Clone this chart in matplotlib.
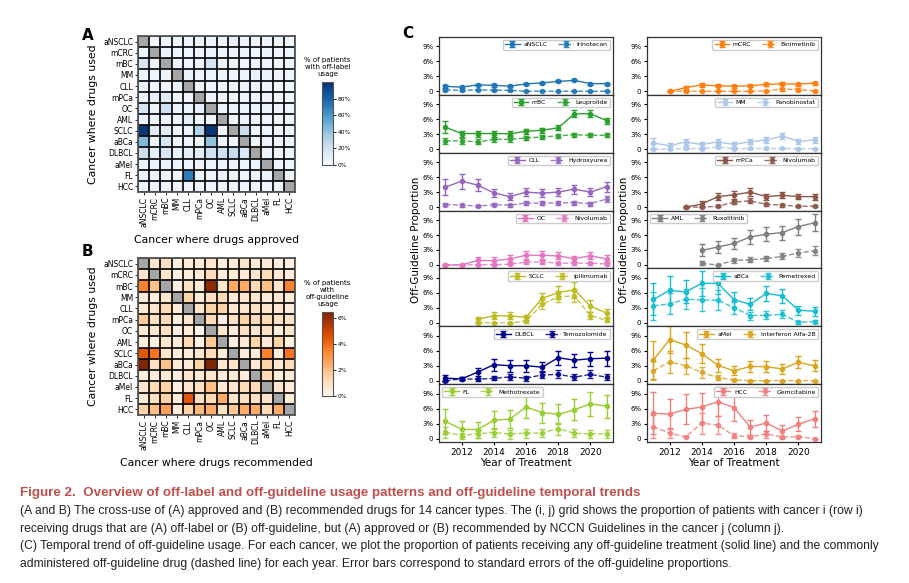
import numpy as np
import matplotlib
matplotlib.use('Agg')
import matplotlib.pyplot as plt
from matplotlib.ticker import FuncFormatter

W, H = 909, 583

cancers = ["aNSCLC", "mCRC", "mBC", "MM", "CLL", "mPCa", "OC", "AML",
           "SCLC", "aBCa", "DLBCL", "aMel", "FL", "HCC"]

# (A) off-label usage, % of patients (row = cancer where used, col = cancer where approved)
offlabel = np.array([
    [0, 4, 5, 4, 4, 5, 5, 5, 8, 5, 4, 5, 4, 4],
    [4, 0, 5, 4, 4, 5, 5, 4, 5, 5, 4, 5, 4, 4],
    [16, 5, 0, 7, 4, 5, 16, 5, 5, 5, 5, 5, 4, 4],
    [4, 4, 5, 0, 7, 5, 5, 5, 5, 5, 7, 5, 5, 4],
    [5, 5, 5, 7, 0, 5, 5, 5, 5, 5, 5, 5, 4, 4],
    [5, 10, 12, 4, 4, 0, 5, 5, 5, 5, 5, 5, 4, 4],
    [16, 6, 20, 5, 5, 8, 0, 5, 6, 6, 5, 5, 5, 4],
    [5, 4, 5, 4, 10, 4, 4, 0, 5, 5, 5, 4, 4, 4],
    [97, 11, 12, 5, 5, 30, 97, 5, 0, 22, 5, 6, 5, 5],
    [45, 6, 16, 5, 5, 6, 40, 5, 6, 0, 5, 5, 5, 5],
    [22, 10, 16, 7, 10, 12, 20, 20, 24, 14, 0, 5, 5, 5],
    [5, 5, 5, 4, 4, 5, 5, 5, 5, 5, 5, 0, 4, 4],
    [5, 5, 5, 4, 70, 5, 5, 5, 5, 5, 5, 5, 0, 4],
    [5, 5, 5, 4, 4, 5, 5, 5, 5, 5, 4, 4, 4, 0],
], dtype=float)

# (B) off-guideline usage, % of patients (col = cancer where recommended)
offguide = np.array([
    [0, 0.8, 1.0, 0.3, 0.5, 0.6, 0.8, 0.4, 0.6, 0.8, 0.6, 0.6, 0.4, 0.3],
    [0.8, 0, 0.8, 0.3, 0.4, 0.6, 1.2, 0.4, 0.5, 0.6, 0.8, 1.2, 0.6, 0.4],
    [3.5, 2.0, 0, 0.3, 1.0, 0.6, 6.2, 0.8, 2.5, 2.5, 1.2, 2.0, 0.8, 3.5],
    [0.5, 0.4, 0.8, 0, 1.5, 0.5, 1.0, 1.2, 0.6, 0.8, 0.8, 0.5, 0.8, 0.5],
    [0.6, 0.8, 1.2, 0.5, 0, 0.8, 1.5, 1.5, 0.6, 0.8, 1.0, 0.8, 0.8, 0.4],
    [1.8, 1.0, 1.2, 0.3, 0.8, 0, 1.2, 0.3, 1.0, 1.5, 1.2, 1.2, 1.0, 1.0],
    [0.6, 0.8, 1.0, 0.3, 0.5, 0.1, 0, 0.8, 0.5, 1.0, 0.8, 1.0, 0.4, 0.8],
    [0.4, 0.3, 0.8, 0.5, 1.2, 0.2, 1.8, 0, 0.3, 0.6, 1.5, 0.6, 1.5, 0.3],
    [4.5, 3.8, 0.8, 0.4, 0.5, 0.8, 1.2, 0.5, 0, 0.6, 0.5, 3.5, 0.5, 3.8],
    [6.5, 1.0, 2.0, 0.5, 0.5, 1.5, 6.5, 0.8, 0.8, 0, 0.6, 1.5, 0.6, 1.2],
    [0.4, 0.5, 0.6, 0.4, 0.8, 0.6, 0.8, 0.6, 0.6, 0.5, 0, 1.2, 0.4, 0.6],
    [0.8, 1.2, 1.5, 0.3, 0.8, 1.0, 2.0, 0.6, 0.8, 1.2, 1.2, 0, 0.8, 0.5],
    [0.6, 1.0, 1.5, 0.5, 4.5, 1.0, 1.2, 2.5, 0.8, 1.0, 1.0, 0.8, 0, 0.5],
    [1.5, 2.0, 2.8, 0.6, 1.5, 2.2, 2.5, 1.0, 1.8, 2.5, 2.5, 1.2, 2.5, 0],
])

# (C) yearly off-guideline proportions in %, solid = any, dashed = top drug
ansclc = [1.0, 0.85, 1.3, 1.2, 1.05, 1.5, 1.7, 2.0, 2.2, 1.55, 1.55]
ansclc_se = [0.3, 0.25, 0.25, 0.25, 0.2, 0.2, 0.2, 0.2, 0.2, 0.2, 0.2]
irinotecan = [0.3, 0.2, 0.3, 0.25, 0.2, 0.05, 0.05, 0.02, 0.02, 0.02, 0.02]
irinotecan_se = [0.15, 0.1, 0.1, 0.1, 0.1, 0.05, 0.05, 0.02, 0.02, 0.02, 0.02]

mbc = [4.4, 3.15, 3.15, 3.15, 3.1, 3.6, 3.8, 4.3, 7.1, 7.1, 5.75]
mbc_se = [1.2, 0.6, 0.6, 0.6, 0.5, 0.5, 0.5, 0.5, 0.7, 0.7, 0.6]
leuprolide = [1.65, 1.7, 1.45, 2.0, 2.0, 2.25, 2.45, 2.7, 2.9, 2.8, 2.8]
leuprolide_se = [0.7, 0.6, 0.5, 0.5, 0.5, 0.4, 0.4, 0.4, 0.4, 0.4, 0.4]

cll = [4.0, 5.2, 4.4, 2.85, 2.1, 3.0, 2.8, 3.0, 3.6, 3.0, 4.1]
cll_se = [1.6, 1.5, 1.2, 0.8, 0.7, 0.8, 0.8, 0.8, 0.9, 0.8, 1.0]
hydroxyurea = [0.5, 0.4, 0.2, 0.45, 0.4, 0.8, 0.8, 0.85, 0.9, 0.7, 1.6]
hydroxyurea_se = [0.3, 0.3, 0.2, 0.3, 0.3, 0.4, 0.4, 0.4, 0.4, 0.4, 0.6]

oc = [0.0, 0.0, 0.9, 0.85, 1.2, 1.95, 1.95, 1.8, 1.25, 1.85, 1.2]
oc_se = [0.1, 0.1, 0.7, 0.7, 0.7, 0.8, 0.8, 0.7, 0.6, 0.7, 0.7]
nivolumab_oc = [0.0, 0.0, 0.05, 0.05, 0.15, 0.55, 0.6, 0.35, 0.35, 0.35, 0.2]
nivolumab_oc_se = [0.0, 0.0, 0.1, 0.1, 0.2, 0.4, 0.4, 0.3, 0.3, 0.3, 0.3]

sclc = [0.7, 1.4, 1.4, 1.1, 4.9, 6.05, 6.6, 3.35, 1.95]
sclc_se = [0.5, 0.7, 0.7, 0.5, 1.0, 1.3, 1.6, 1.2, 0.8]
ipilimumab = [0.0, 0.0, 0.0, 0.3, 3.7, 5.2, 5.4, 1.4, 0.5]
ipilimumab_se = [0.0, 0.0, 0.0, 0.3, 0.9, 1.1, 1.2, 0.7, 0.4]

dlbcl = [0.5, 0.35, 1.7, 3.2, 3.0, 3.0, 2.7, 4.6, 4.1, 4.4, 4.5]
dlbcl_se = [0.6, 0.3, 0.8, 1.2, 1.2, 1.2, 1.0, 1.4, 1.3, 1.4, 1.5]
temozolomide = [0.0, 0.35, 0.3, 0.45, 0.75, 0.5, 1.15, 1.25, 0.7, 1.25, 0.7]
temozolomide_se = [0.0, 0.3, 0.3, 0.4, 0.6, 0.5, 0.7, 0.8, 0.6, 0.8, 0.6]

fl = [3.45, 1.85, 1.8, 3.65, 3.9, 6.3, 5.2, 4.85, 5.75, 6.95, 6.5]
fl_se = [2.5, 1.6, 1.6, 1.8, 1.8, 2.2, 2.0, 2.0, 2.1, 2.4, 2.3]
methotrexate = [1.25, 0.6, 0.95, 1.2, 0.9, 1.1, 1.1, 2.0, 1.05, 0.95, 0.9]
methotrexate_se = [1.1, 0.6, 0.8, 0.9, 0.9, 0.9, 0.8, 1.2, 0.8, 0.8, 0.8]

mcrc = [0.0, 0.75, 1.3, 1.1, 1.05, 1.1, 1.4, 1.5, 1.45, 1.65]
mcrc_se = [0.1, 0.4, 0.4, 0.3, 0.3, 0.3, 0.3, 0.3, 0.3, 0.3]
binimetinib = [0.0, 0.05, 0.0, 0.0, 0.0, 0.0, 0.1, 0.45, 0.35, 0.1]
binimetinib_se = [0.0, 0.1, 0.0, 0.0, 0.0, 0.0, 0.2, 0.3, 0.3, 0.2]

mm = [1.25, 0.7, 1.45, 0.95, 1.45, 0.95, 1.5, 1.85, 2.65, 1.55, 1.9]
mm_se = [1.0, 0.6, 0.6, 0.5, 0.5, 0.5, 0.5, 0.6, 0.6, 0.5, 0.6]
panobinostat = [0.0, 0.0, 0.15, 0.1, 0.45, 0.1, 0.15, 0.15, 0.15, 0.1, 0.1]
panobinostat_se = [0.0, 0.0, 0.2, 0.1, 0.3, 0.1, 0.1, 0.1, 0.1, 0.1, 0.1]

mpca = [0.0, 0.6, 2.1, 2.45, 3.0, 2.1, 2.35, 2.1, 2.1]
mpca_se = [0.2, 0.6, 0.7, 0.8, 0.8, 0.6, 0.6, 0.5, 0.6]
nivolumab_mpca = [0.0, 0.0, 0.15, 1.0, 1.25, 0.55, 0.4, 0.15, 0.2]
nivolumab_mpca_se = [0.0, 0.0, 0.2, 0.4, 0.5, 0.3, 0.3, 0.2, 0.2]

aml = [2.9, 3.6, 4.3, 5.6, 6.15, 6.5, 7.7, 8.45]
aml_se = [1.2, 1.2, 1.2, 1.4, 1.4, 1.4, 1.6, 1.7]
ruxolitinib = [0.3, 0.0, 0.9, 1.05, 1.3, 1.7, 2.4, 2.85]
ruxolitinib_se = [0.4, 0.0, 0.5, 0.5, 0.5, 0.6, 0.8, 0.9]

abca = [4.7, 6.5, 6.2, 7.9, 7.9, 4.65, 3.7, 5.9, 5.4, 2.55, 2.3]
abca_se = [3.2, 2.8, 2.3, 2.5, 2.2, 1.5, 1.2, 1.5, 1.4, 0.9, 0.9]
pemetrexed = [3.4, 3.8, 4.7, 4.6, 4.5, 3.05, 1.45, 1.5, 1.7, 0.1, 0.2]
pemetrexed_se = [2.8, 2.1, 2.0, 2.3, 2.0, 1.2, 0.8, 0.8, 0.8, 0.3, 0.3]

amel = [4.15, 8.25, 7.15, 5.4, 3.1, 1.95, 2.85, 2.8, 2.35, 3.7, 2.95]
amel_se = [3.9, 2.8, 2.6, 1.9, 1.3, 0.9, 1.1, 1.1, 1.0, 1.2, 1.1]
interferon = [2.0, 3.75, 3.0, 1.65, 0.6, 0.15, 0.0, 0.0, 0.0, 0.0, 0.0]
interferon_se = [1.9, 2.2, 1.6, 1.1, 0.5, 0.2, 0.0, 0.0, 0.0, 0.0, 0.0]

hcc = [5.05, 4.9, 5.85, 6.3, 7.4, 6.2, 2.3, 3.1, 1.5, 2.85, 3.95]
hcc_se = [4.2, 3.0, 3.0, 2.9, 2.9, 2.7, 1.5, 1.6, 1.2, 1.4, 1.6]
gemcitabine = [2.35, 1.1, 0.35, 3.05, 2.7, 0.55, 0.35, 0.9, 0.3, 0.35, 0.0]
gemcitabine_se = [2.3, 1.0, 0.1, 2.1, 1.8, 0.5, 0.3, 0.7, 0.3, 0.3, 0.0]

# (cancer, drug, first year, any, se, drug, se, colour, legend loc)
left_panels = [
    ("aNSCLC", "Irinotecan", 2011, ansclc, ansclc_se, irinotecan, irinotecan_se, "#1f77b4", "upper right"),
    ("mBC", "Leuprolide", 2011, mbc, mbc_se, leuprolide, leuprolide_se, "#2ca02c", "upper right"),
    ("CLL", "Hydroxyurea", 2011, cll, cll_se, hydroxyurea, hydroxyurea_se, "#9467bd", "upper right"),
    ("OC", "Nivolumab", 2011, oc, oc_se, nivolumab_oc, nivolumab_oc_se, "#e377c2", "upper right"),
    ("SCLC", "Ipilimumab", 2013, sclc, sclc_se, ipilimumab, ipilimumab_se, "#bcbd22", "upper right"),
    ("DLBCL", "Temozolomide", 2011, dlbcl, dlbcl_se, temozolomide, temozolomide_se, "#00008b", "upper right"),
    ("FL", "Methotrexate", 2011, fl, fl_se, methotrexate, methotrexate_se, "#9acd32", "upper left"),
]
right_panels = [
    ("mCRC", "Binimetinib", 2012, mcrc, mcrc_se, binimetinib, binimetinib_se, "#ff7f0e", "upper right"),
    ("MM", "Panobinostat", 2011, mm, mm_se, panobinostat, panobinostat_se, "#aec7e8", "upper right"),
    ("mPCa", "Nivolumab", 2013, mpca, mpca_se, nivolumab_mpca, nivolumab_mpca_se, "#8c564b", "upper right"),
    ("AML", "Ruxolitinib", 2014, aml, aml_se, ruxolitinib, ruxolitinib_se, "#7f7f7f", "upper left"),
    ("aBCa", "Pemetrexed", 2011, abca, abca_se, pemetrexed, pemetrexed_se, "#17becf", "upper right"),
    ("aMel", "Interferon Alfa-2B", 2011, amel, amel_se, interferon, interferon_se, "#daa520", "upper right"),
    ("HCC", "Gemcitabine", 2011, hcc, hcc_se, gemcitabine, gemcitabine_se, "#f08080", "upper right"),
]


def rect(x0, y0, x1, y1):
    return [x0 / W, 1 - y1 / H, (x1 - x0) / W, (y1 - y0) / H]


fig = plt.figure(figsize=(W / 100, H / 100), dpi=100)


def heatmap(box, data, cmap, vmax, xlabel, cbox, ctitle, cticks):
    ax = fig.add_axes(rect(*box))
    m = np.ma.masked_where(np.eye(len(cancers), dtype=bool), data)
    cm = plt.get_cmap(cmap).copy()
    cm.set_bad('#a6a6a6')
    im = ax.imshow(m, cmap=cm, vmin=0, vmax=vmax, aspect='auto')
    n = len(cancers)
    ax.set_xticks(range(n))
    ax.set_yticks(range(n))
    ax.set_xticklabels(cancers, rotation=90, fontsize=5.5)
    ax.set_yticklabels(cancers, fontsize=5.5)
    ax.set_xticks(np.arange(-0.5, n, 1), minor=True)
    ax.set_yticks(np.arange(-0.5, n, 1), minor=True)
    ax.grid(which='minor', color='black', lw=1.2)
    ax.tick_params(which='minor', length=0)
    ax.tick_params(which='major', length=2, width=0.6, pad=1.5)
    for s in ax.spines.values():
        s.set_color('#555555')
        s.set_linewidth(1.3)
    ax.set_xlabel(xlabel, fontsize=7.8, labelpad=6)
    ax.set_ylabel("Cancer where drugs used", fontsize=7.8, labelpad=4)
    cax = fig.add_axes(rect(*cbox))
    cb = fig.colorbar(im, cax=cax, ticks=cticks)
    cb.ax.set_yticklabels([f"{t:g}%" for t in cticks])
    cb.ax.tick_params(labelsize=4.3, length=2, width=0.6, pad=1.5)
    cb.outline.set_linewidth(0.8)
    cb.outline.set_edgecolor('#555555')
    cax.set_title(ctitle, fontsize=5, pad=4)


heatmap((138, 36, 295, 192), offlabel, 'Blues', 100, "Cancer where drugs approved",
        (322, 82, 333, 165), "% of patients\nwith off-label\nusage", [0, 20, 40, 60, 80])
heatmap((138, 258, 295, 415), offguide, 'Oranges', 6.5, "Cancer where drugs recommended",
        (322, 312, 333, 396), "% of patients\nwith\noff-guideline\nusage", [0, 2, 4, 6])

pct = FuncFormatter(lambda v, p: "0" if abs(v) < 1e-9 else f"{v * 100:.0f}%")


def column(x0, x1, panels):
    top, bottom = 37, 442
    h = (bottom - top) / len(panels)
    axes = []
    for i, (cname, dname, y0, anyv, anyse, drugv, drugse, c, loc) in enumerate(panels):
        ax = fig.add_axes(rect(x0, top + i * h, x1, top + (i + 1) * h))
        yrs = np.arange(y0, y0 + len(anyv))
        ax.errorbar(yrs, np.array(anyv) / 100, yerr=np.array(anyse) / 100, color=c,
                    marker='o', ms=3, lw=1, elinewidth=1, capsize=2, capthick=1, label=cname)
        ax.errorbar(yrs, np.array(drugv) / 100, yerr=np.array(drugse) / 100, color=c,
                    marker='o', ms=3, lw=1, ls='--', elinewidth=1, capsize=2, capthick=1,
                    alpha=0.85, label=dname)
        ax.set_xlim(2010.6, 2021.4)
        ax.set_ylim(-0.007, 0.109)
        ax.set_yticks([0, 0.03, 0.06, 0.09])
        ax.yaxis.set_major_formatter(pct)
        ax.set_xticks([2012, 2014, 2016, 2018, 2020])
        ax.tick_params(labelsize=5, length=2.5, width=0.8, pad=1.5)
        if i < len(panels) - 1:
            ax.set_xticklabels([])
        else:
            ax.tick_params(axis='x', labelsize=6.5)
            ax.set_xlabel("Year of Treatment", fontsize=7.5, labelpad=1)
        for s in ax.spines.values():
            s.set_linewidth(0.9)
            s.set_color('#333333')
        ax.legend(loc=loc, ncol=2, fontsize=4.4, handlelength=2.4, columnspacing=1.8,
                  handletextpad=0.6, borderpad=0.35, framealpha=1)
        axes.append(ax)
    return axes


left_axes = column(439, 613, left_panels)
right_axes = column(647, 821, right_panels)
fig.text(416 / W, 1 - 240 / H, "Off-Guideline Proportion", rotation=90, fontsize=7.5,
         ha='center', va='center')
fig.text(624 / W, 1 - 240 / H, "Off-Guideline Proportion", rotation=90, fontsize=7.5,
         ha='center', va='center')

fig.text(82 / W, 1 - 35 / H, "A", fontsize=11, fontweight='bold', ha='left', va='center')
fig.text(82 / W, 1 - 251 / H, "B", fontsize=11, fontweight='bold', ha='left', va='center')
fig.text(402 / W, 1 - 34 / H, "C", fontsize=11, fontweight='bold', ha='left', va='center')

cap_font = ['Liberation Sans Narrow', 'Liberation Sans', 'DejaVu Sans']
fig.text(20 / W, 1 - 493 / H,
         "Figure 2.  Overview of off-label and off-guideline usage patterns and off-guideline temporal trends",
         fontsize=9.6, fontweight='bold', color='#c0504d', family=cap_font, va='center')
caption = [
    "(A and B) The cross-use of (A) approved and (B) recommended drugs for 14 cancer types. The (i, j) grid shows the proportion of patients with cancer i (row i)",
    "receiving drugs that are (A) off-label or (B) off-guideline, but (A) approved or (B) recommended by NCCN Guidelines in the cancer j (column j).",
    "(C) Temporal trend of off-guideline usage. For each cancer, we plot the proportion of patients receiving any off-guideline treatment (solid line) and the commonly",
    "administered off-guideline drug (dashed line) for each year. Error bars correspond to standard errors of the off-guideline proportions.",
]
for k, line in enumerate(caption):
    fig.text(20 / W, 1 - (511 + 17.7 * k) / H, line, fontsize=8.7, family=cap_font,
             color='#222222', va='center')

plt.savefig("out.png", dpi=100)
plt.close()
